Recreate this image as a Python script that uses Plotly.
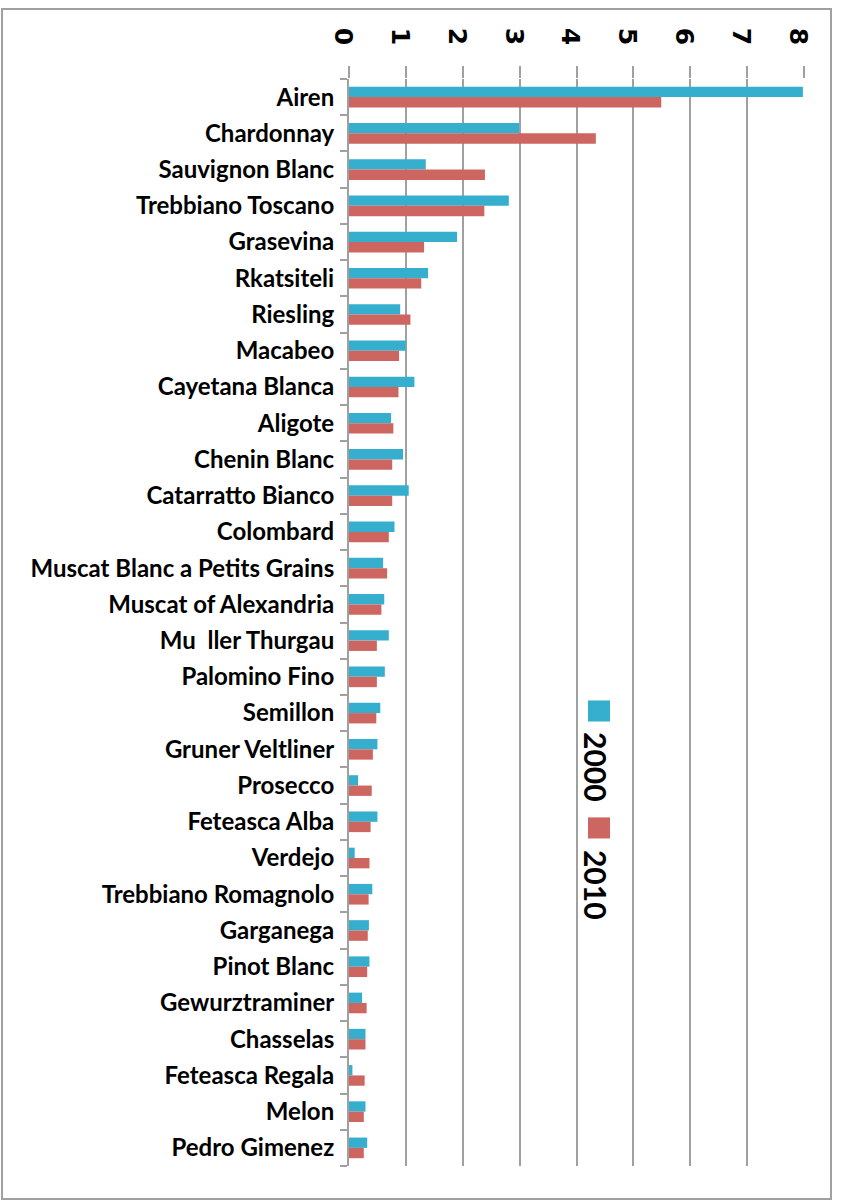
import plotly.graph_objects as go

# white grape varieties, top 30 by area
varieties = [
    "Airen", "Chardonnay", "Sauvignon Blanc", "Trebbiano Toscano", "Grasevina",
    "Rkatsiteli", "Riesling", "Macabeo", "Cayetana Blanca", "Aligote",
    "Chenin Blanc", "Catarratto Bianco", "Colombard", "Muscat Blanc a Petits Grains",
    "Muscat of Alexandria", "Mu  ller Thurgau", "Palomino Fino", "Semillon",
    "Gruner Veltliner", "Prosecco", "Feteasca Alba", "Verdejo",
    "Trebbiano Romagnolo", "Garganega", "Pinot Blanc", "Gewurztraminer",
    "Chasselas", "Feteasca Regala", "Melon", "Pedro Gimenez",
]
y2000 = [7.98, 2.99, 1.35, 2.81, 1.90, 1.39, 0.90, 1.00, 1.15, 0.74,
         0.95, 1.05, 0.80, 0.60, 0.62, 0.70, 0.63, 0.55, 0.50, 0.16,
         0.50, 0.10, 0.41, 0.35, 0.36, 0.23, 0.29, 0.06, 0.29, 0.32]
y2010 = [5.49, 4.34, 2.39, 2.38, 1.32, 1.27, 1.08, 0.88, 0.87, 0.78,
         0.76, 0.76, 0.70, 0.67, 0.57, 0.49, 0.49, 0.48, 0.42, 0.40,
         0.38, 0.36, 0.345, 0.33, 0.32, 0.31, 0.29, 0.275, 0.26, 0.26]
x_ticks = list(range(0, 9))

teal = "#36AECD"
red = "#CD6661"
grid = "#A0A0A0"

fig = go.Figure()
fig.add_trace(go.Bar(y=varieties, x=y2000, orientation="h", name="2000",
                     marker=dict(color=teal, line=dict(width=0))))
fig.add_trace(go.Bar(y=varieties, x=y2010, orientation="h", name="2010",
                     marker=dict(color=red, line=dict(width=0))))

# chart frame
fig.add_shape(type="rect", xref="paper", yref="paper",
              x0=-0.7626, x1=1.0593, y0=-0.0304, y1=1.0644,
              line=dict(color="#A0A0A0", width=2))

# rotated legend (Excel-style, turned 90 degrees)
for name, col, ys, yt in [("2000", teal, 0.4186, 0.367), ("2010", red, 0.311, 0.2585)]:
    fig.add_shape(type="rect", xref="paper", yref="paper",
                  x0=0.5495 - 0.0242, x1=0.5495 + 0.0242,
                  y0=ys - 0.0097, y1=ys + 0.0097,
                  fillcolor=col, line=dict(width=0))
    fig.add_annotation(xref="paper", yref="paper", x=0.543, y=yt,
                       xanchor="center", yanchor="middle",
                       text="<b>%s</b>" % name, showarrow=False, textangle=90,
                       font=dict(family="Lato", size=30, color="black"))

fig.update_layout(
    width=843, height=1203,
    margin=dict(l=349, r=39, t=79, b=37),
    paper_bgcolor="white", plot_bgcolor="white",
    barmode="group", bargap=0.43, bargroupgap=0,
    showlegend=False,
    font=dict(family="Lato", color="black"),
)
fig.update_xaxes(
    side="top", range=[0, 8], tickvals=x_ticks,
    ticktext=["<b>%d</b>" % v for v in x_ticks],
    tickangle=90, tickfont=dict(size=25, family="DejaVu Sans"),
    ticklabelstandoff=12, ticklabelshift=-6,
    showgrid=True, gridcolor=grid, gridwidth=2,
    ticks="outside", ticklen=12, tickcolor=grid, tickwidth=2,
    showline=False, zeroline=False, fixedrange=True,
)
fig.update_yaxes(
    autorange="reversed", tickson="boundaries",
    ticks="outside", ticklen=7, tickcolor=grid, tickwidth=2,
    showline=True, linecolor=grid, linewidth=2,
    tickfont=dict(size=24, family="Lato", color="black"),
    ticktext=["<b>%s</b>" % v for v in varieties], tickvals=varieties,
    ticklabelstandoff=8, showgrid=False,
)

fig.write_html("out.html", config={"displayModeBar": False},
               post_script="document.body.style.margin='0';")
